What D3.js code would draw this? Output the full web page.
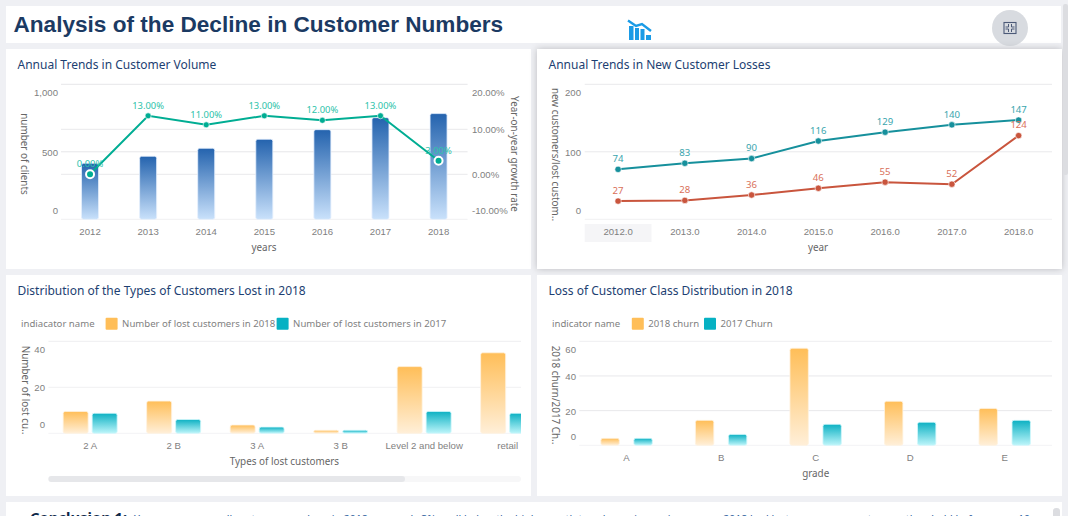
<!DOCTYPE html>
<html>
<head>
<meta charset="utf-8">
<script src="https://cdn.jsdelivr.net/npm/d3@7"></script>
<style>
html, body { margin: 0; padding: 0; background: #eff0f4; overflow: hidden; }
svg { display: block; font-family: "Noto Sans", sans-serif; }
.tick-label { font-size: 9.6px; fill: #7f7f7f; }
.axis-title { font-size: 9.9px; fill: #666; }
.panel-title { font-size: 12px; fill: #1d3f72; }
.legend-text { font-size: 9.6px; fill: #7f7f7f; }
</style>
</head>
<body>
<svg id="page" width="1068" height="516"></svg>
<script>
const pageTitle = 'Analysis of the Decline in Customer Numbers';

const years = ['2012', '2013', '2014', '2015', '2016', '2017', '2018'];
const clients = [415, 467, 526, 593, 664, 753, 783];
const growthRate = [0, 13, 11, 13, 12, 13, 3];

const yearLabels = ['2012.0', '2013.0', '2014.0', '2015.0', '2016.0', '2017.0', '2018.0'];
const newCustomers = [74, 83, 90, 116, 129, 140, 147];
const lostCustomers = [27, 28, 36, 46, 55, 52, 124];

const lostTypes = ['2 A', '2 B', '3 A', '3 B', 'Level 2 and below', 'retail'];
const lostTypes2018 = [9.5, 14, 3.6, 1.3, 29, 35];
const lostTypes2017 = [8.7, 6, 2.7, 1.3, 9.5, 8.7];

const grades = ['A', 'B', 'C', 'D', 'E'];
const churn2018 = [4, 14.4, 56, 25.4, 21.3];
const churn2017 = [4, 6.3, 12.1, 13.3, 14.4];

const svg = d3.select('#page');
const defs = svg.append('defs');

const gradient = (id, top, bottom) => {
    const g = defs.append('linearGradient')
        .attr('id', id)
        .attr('x1', 0).attr('y1', 0)
        .attr('x2', 0).attr('y2', 1);
    g.append('stop').attr('offset', 0).attr('stop-color', top);
    g.append('stop').attr('offset', 1).attr('stop-color', bottom);
};
gradient('blueBar', '#2463ae', '#c9e1fb');
gradient('orangeBar', '#ffbe58', '#ffefd8');
gradient('tealBar', '#0db1c3', '#bdf5fa');

const shadow = defs.append('filter')
    .attr('id', 'panelShadow')
    .attr('x', '-5%').attr('y', '-8%')
    .attr('width', '110%').attr('height', '116%');
shadow.append('feDropShadow')
    .attr('dx', 0).attr('dy', 0)
    .attr('stdDeviation', 3.5)
    .attr('flood-color', '#000')
    .attr('flood-opacity', 0.22);

defs.append('clipPath').attr('id', 'typesClip')
    .append('rect')
    .attr('x', 48).attr('y', 330)
    .attr('width', 473).attr('height', 140);

const panel = (x, y, width, height, title, raised) => {
    svg.append('rect')
        .attr('x', x).attr('y', y)
        .attr('width', width).attr('height', height)
        .attr('fill', '#fff')
        .attr('filter', raised ? 'url(#panelShadow)' : null);
    svg.append('text')
        .attr('class', 'panel-title')
        .attr('x', x + 11.5).attr('y', y + 20)
        .text(title);
};

// Edge labels are pushed inwards so they stay inside the plot height
const valueAxis = (scale, x, orient, tickValues, format, topShift, bottomShift) => {
    const axis = (orient === 'left' ? d3.axisLeft(scale) : d3.axisRight(scale))
        .tickValues(tickValues)
        .tickFormat(format)
        .tickSize(0)
        .tickPadding(0);
    const g = svg.append('g')
        .attr('transform', `translate(${x}, 0)`)
        .call(axis);
    g.select('.domain').remove();
    g.selectAll('text')
        .attr('class', 'tick-label')
        .style('font-family', 'inherit')
        .attr('dy', (d, i) => {
            const shift = i === 0 ? bottomShift : i === tickValues.length - 1 ? topShift : 0;
            return `${shift + 3.5}px`;
        });
};

const grid = (scale, x1, x2, values, colour) => {
    svg.append('g').selectAll('line')
        .data(values)
        .join('line')
        .attr('x1', x1).attr('x2', x2)
        .attr('y1', d => scale(d)).attr('y2', d => scale(d))
        .attr('stroke', colour);
};

const categoryAxis = (scale, y) => {
    const g = svg.append('g')
        .attr('transform', `translate(0, ${y})`)
        .call(d3.axisBottom(scale).tickSize(0).tickPadding(0));
    g.select('.domain').remove();
    g.selectAll('text')
        .attr('class', 'tick-label')
        .style('font-family', 'inherit')
        .attr('dy', '0.35em');
    return g;
};

const xTitle = (text, x, y) => svg.append('text')
    .attr('class', 'axis-title')
    .attr('x', x).attr('y', y)
    .attr('dy', '0.35em')
    .attr('text-anchor', 'middle')
    .text(text);

const yTitle = (text, x, y) => svg.append('text')
    .attr('class', 'axis-title')
    .attr('transform', `translate(${x}, ${y}) rotate(90)`)
    .attr('dy', '0.35em')
    .attr('text-anchor', 'middle')
    .text(text);

const legend = (label, labelX, y, entries) => {
    svg.append('text')
        .attr('class', 'legend-text')
        .attr('x', labelX).attr('y', y)
        .attr('dy', '0.35em')
        .text(label);
    entries.forEach(({ name, x, colour }) => {
        svg.append('rect')
            .attr('x', x).attr('y', y - 6)
            .attr('width', 12).attr('height', 12)
            .attr('rx', 1)
            .attr('fill', colour);
        svg.append('text')
            .attr('class', 'legend-text')
            .attr('x', x + 16.5).attr('y', y)
            .attr('dy', '0.35em')
            .text(name);
    });
};

// Page chrome
svg.append('rect')
    .attr('x', 6).attr('y', 6)
    .attr('width', 1055).attr('height', 37)
    .attr('fill', '#fff');
svg.append('text')
    .attr('x', 13.5).attr('y', 32)
    .style('font-family', '"Liberation Sans", Arial, sans-serif')
    .style('font-size', '22.6px')
    .style('font-weight', 700)
    .attr('fill', '#1b3a63')
    .text(pageTitle);

const icon = svg.append('g')
    .attr('transform', 'translate(628, 20)')
    .attr('fill', '#1a9be6');
icon.append('path')
    .attr('d', 'M0 0.5 L8 6 L14 4 L23 11')
    .attr('fill', 'none')
    .attr('stroke', '#1a9be6')
    .attr('stroke-width', 2.4);
[[1, 6, 4.5, 14], [7, 8, 4, 12], [12.5, 9, 4, 11], [18, 15, 5, 5]].forEach(([x, y, w, h]) => {
    icon.append('rect').attr('x', x).attr('y', y).attr('width', w).attr('height', h);
});

svg.append('circle')
    .attr('cx', 1010).attr('cy', 28).attr('r', 18)
    .attr('fill', '#d8dbe0');
svg.append('rect')
    .attr('x', 1004).attr('y', 22.5)
    .attr('width', 12).attr('height', 11)
    .attr('fill', 'none').attr('stroke', '#4c5a78').attr('stroke-width', 1.1);
svg.append('path')
    .attr('d', 'M1008.5 24v3h-3M1011.5 24v3h3M1008.5 32v-3h-3M1011.5 32v-3h3')
    .attr('fill', 'none').attr('stroke', '#4c5a78');

// Customer volume
panel(6, 49, 525, 220, 'Annual Trends in Customer Volume');

const volumeX = d3.scaleBand().domain(years).range([61, 467.6]);
const volumeY = d3.scaleLinear().domain([0, 1000]).range([219.3, 84.3]);
const growthY = d3.scaleLinear().domain([-10, 20]).range([219.3, 84.3]);

grid(volumeY, 61, 467.6, [500, 1000], '#e6e6e9');
grid(growthY, 61, 467.6, [0, 10], '#e9e9ec');
grid(volumeY, 61, 467.6, [0], '#f0f0f2');

valueAxis(volumeY, 58, 'left', [0, 500, 1000], d3.format(','), 8, -9);
valueAxis(growthY, 472, 'right', [-10, 0, 10, 20], d => `${d.toFixed(2)}%`, 8, -9);
categoryAxis(volumeX, 232).attr('class', 'volume-x');
xTitle('years', 264, 248);
yTitle('number of clients', 24, 154);
yTitle('Year-on-year growth rate', 514, 154);

const volumeBarWidth = 17;
svg.append('g').selectAll('rect')
    .data(years)
    .join('rect')
    .attr('x', d => volumeX(d) + volumeX.bandwidth() / 2 - volumeBarWidth / 2)
    .attr('y', (d, i) => volumeY(clients[i]))
    .attr('width', volumeBarWidth)
    .attr('height', (d, i) => volumeY(0) - volumeY(clients[i]))
    .attr('rx', 2)
    .attr('fill', 'url(#blueBar)')
    .attr('stroke', '#e4effc')
    .attr('stroke-width', 0.8);

const volumeCx = d => volumeX(d) + volumeX.bandwidth() / 2;

svg.append('path')
    .datum(years)
    .attr('d', d3.line()
        .x(volumeCx)
        .y((d, i) => growthY(growthRate[i])))
    .attr('fill', 'none')
    .attr('stroke', '#00ad93')
    .attr('stroke-width', 2);

svg.append('g').selectAll('text')
    .data(years)
    .join('text')
    .attr('x', volumeCx)
    .attr('y', (d, i) => growthY(growthRate[i]) - 10.5)
    .attr('dy', '0.35em')
    .attr('text-anchor', 'middle')
    .style('font-size', '9.4px')
    .attr('fill', '#2dc3aa')
    .text((d, i) => `${growthRate[i].toFixed(2)}%`);

svg.append('g').selectAll('circle')
    .data(years)
    .join('circle')
    .attr('cx', volumeCx)
    .attr('cy', (d, i) => growthY(growthRate[i]))
    .attr('r', d => (d === '2012' || d === '2018' ? 4 : 3))
    .attr('fill', '#00ad93')
    .attr('stroke', '#fff')
    .attr('stroke-width', d => (d === '2012' || d === '2018' ? 2 : 0.6));

// New customers and losses
panel(537, 49, 525, 220, 'Annual Trends in New Customer Losses', true);

const lossX = d3.scaleBand().domain(yearLabels).range([584.7, 1052]);
const lossY = d3.scaleLinear().domain([0, 200]).range([219.3, 84.3]);
const lossCx = d => lossX(d) + lossX.bandwidth() / 2;

grid(lossY, 584.7, 1052, [100, 200], '#e9e9ec');
grid(lossY, 584.7, 1052, [0], '#f0f0f2');

svg.append('rect')
    .attr('x', lossX(yearLabels[0])).attr('y', 224)
    .attr('width', lossX.bandwidth()).attr('height', 18)
    .attr('fill', '#f5f5f7');

valueAxis(lossY, 581, 'left', [0, 100, 200], d3.format('d'), 8, -9);
categoryAxis(lossX, 232);
xTitle('year', 818, 248);
yTitle('new customers/lost custom..', 555, 154.5);

[
    { values: newCustomers, colour: '#16909c', text: '#3aa5ae' },
    { values: lostCustomers, colour: '#c9553d', text: '#d9705a' },
].forEach(({ values, colour, text }) => {
    svg.append('path')
        .datum(yearLabels)
        .attr('d', d3.line()
            .x(lossCx)
            .y((d, i) => lossY(values[i])))
        .attr('fill', 'none')
        .attr('stroke', colour)
        .attr('stroke-width', 2);
    svg.append('g').selectAll('circle')
        .data(yearLabels)
        .join('circle')
        .attr('cx', lossCx)
        .attr('cy', (d, i) => lossY(values[i]))
        .attr('r', 3.2)
        .attr('fill', colour)
        .attr('stroke', '#fff')
        .attr('stroke-width', 0.6);
    svg.append('g').selectAll('text')
        .data(yearLabels)
        .join('text')
        .attr('x', lossCx)
        .attr('y', (d, i) => lossY(values[i]) - 10.5)
        .attr('dy', '0.35em')
        .attr('text-anchor', 'middle')
        .style('font-size', '9.6px')
        .attr('fill', text)
        .text((d, i) => values[i]);
});

// Grouped bars shared by the two lower panels
const groupedBars = (categories, series, xScale, yScale, barWidth, gap, clip) => {
    const inner = d3.scaleBand()
        .domain(d3.range(series.length))
        .range([-(barWidth + gap / 2), barWidth + gap / 2])
        .paddingInner(gap / (barWidth + gap));
    const root = svg.append('g').attr('clip-path', clip ? `url(#${clip})` : null);
    series.forEach(({ values, fill, stroke }, s) => {
        root.append('g').selectAll('rect')
            .data(categories)
            .join('rect')
            .attr('x', d => xScale(d) + xScale.bandwidth() / 2 + inner(s))
            .attr('y', (d, i) => yScale(values[i]))
            .attr('width', inner.bandwidth())
            .attr('height', (d, i) => yScale(0) - yScale(values[i]))
            .attr('rx', 2)
            .attr('fill', fill)
            .attr('stroke', stroke)
            .attr('stroke-width', 0.8);
    });
};

const orangeSeries = values => ({ values, fill: 'url(#orangeBar)', stroke: '#fff3df' });
const tealSeries = values => ({ values, fill: 'url(#tealBar)', stroke: '#d2f7fb' });

// Lost customer types
panel(6, 275, 525, 221, 'Distribution of the Types of Customers Lost in 2018');
legend('indiacator name', 21, 323.7, [
    { name: 'Number of lost customers in 2018', x: 105.6, colour: '#ffbe58' },
    { name: 'Number of lost customers in 2017', x: 276.6, colour: '#06b1c3' },
]);

const typesX = d3.scaleBand().domain(lostTypes).range([48.4, 48.4 + 83.5 * lostTypes.length]);
const typesY = d3.scaleLinear().domain([0, 40]).range([433.3, 341.3]);

grid(typesY, 48.4, 521, [20], '#f0f0f2');
grid(typesY, 48.4, 521, [40], '#eeeef0');
grid(typesY, 48.4, 521, [0], '#f3f3f5');
valueAxis(typesY, 45, 'left', [0, 20, 40], d3.format('d'), 8, -9);
groupedBars(lostTypes, [orangeSeries(lostTypes2018), tealSeries(lostTypes2017)], typesX, typesY, 25, 4, 'typesClip');
categoryAxis(typesX, 446);
xTitle('Types of lost customers', 284.4, 461.7);
yTitle('Number of lost cu..', 25, 390);

svg.append('rect')
    .attr('x', 48.4).attr('y', 476)
    .attr('width', 472.6).attr('height', 6)
    .attr('rx', 3)
    .attr('fill', '#f7f7f8');
svg.append('rect')
    .attr('x', 48.4).attr('y', 476)
    .attr('width', 356.6).attr('height', 6)
    .attr('rx', 3)
    .attr('fill', '#e6e7ea');

// Customer class churn
panel(537, 275, 525, 221, 'Loss of Customer Class Distribution in 2018');
legend('indicator name', 552, 323.7, [
    { name: '2018 churn', x: 631.8, colour: '#ffbe58' },
    { name: '2017 Churn', x: 704, colour: '#06b1c3' },
]);

const gradeX = d3.scaleBand().domain(grades).range([579.3, 1052]);
const gradeY = d3.scaleLinear().domain([0, 60]).range([445.3, 341.3]);

grid(gradeY, 579.3, 1052, [20, 40], '#e8e8eb');
grid(gradeY, 579.3, 1052, [60], '#eeeef0');
grid(gradeY, 579.3, 1052, [0], '#f3f3f5');
valueAxis(gradeY, 576, 'left', [0, 20, 40, 60], d3.format('d'), 8, -9);
groupedBars(grades, [orangeSeries(churn2018), tealSeries(churn2017)], gradeX, gradeY, 18.4, 14.6);
categoryAxis(gradeX, 458);
xTitle('grade', 815.7, 474);
yTitle('2018 churn/2017 Ch..', 555.5, 395);

// Conclusion strip, cut off by the bottom of the window
svg.append('rect')
    .attr('x', 6).attr('y', 502)
    .attr('width', 1056).attr('height', 14)
    .attr('fill', '#fff');
svg.append('text')
    .attr('x', 30).attr('y', 522.5)
    .style('font-size', '14.8px')
    .style('font-weight', 700)
    .attr('fill', '#0d2748')
    .text('Conclusion 1:');
svg.append('text')
    .attr('x', 134).attr('y', 523)
    .style('font-size', '10.5px')
    .attr('fill', '#2a5c9c')
    .text('Year-on-year overall customer numbers in 2018 grew only 3%, well below the high-growth trend seen in previous years; 2018 had lost many more customers than held before, over 10 years of customers.');

// Scrollbars
svg.append('rect')
    .attr('x', 1063).attr('y', 4)
    .attr('width', 5).attr('height', 171)
    .attr('rx', 2)
    .attr('fill', '#dcdde1');
svg.append('rect')
    .attr('x', 1053).attr('y', 508)
    .attr('width', 7).attr('height', 12)
    .attr('rx', 3)
    .attr('fill', '#dcdde1');
</script>
</body>
</html>
